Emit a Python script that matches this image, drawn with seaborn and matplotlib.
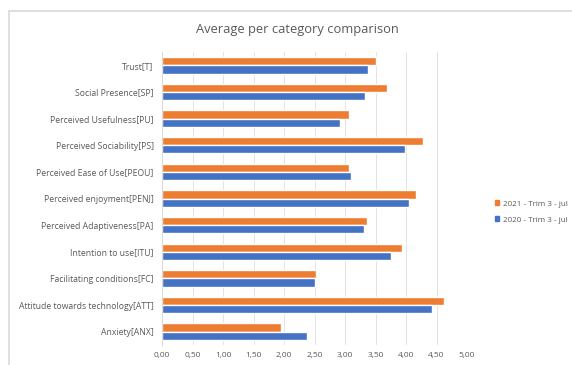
import matplotlib
matplotlib.use("Agg")
import matplotlib.pyplot as plt
import seaborn as sns
import pandas as pd
from matplotlib.lines import Line2D
from matplotlib.patches import Patch

categories = ["Trust[T]", "Social Presence[SP]", "Perceived Usefulness[PU]",
              "Perceived Sociability[PS]", "Perceived Ease of Use[PEOU]",
              "Perceived enjoyment[PENJ]", "Perceived Adaptiveness[PA]",
              "Intention to use[ITU]", "Facilitating conditions[FC]",
              "Attitude towards technology[ATT]", "Anxiety[ANX]"]
values_2021 = [3.50, 3.69, 3.07, 4.28, 3.07, 4.16, 3.36, 3.93, 2.53, 4.62, 1.95]
values_2020 = [3.38, 3.32, 2.92, 3.98, 3.10, 4.05, 3.31, 3.75, 2.50, 4.42, 2.38]
series_names = ["2021 - Trim 3 - jul", "2020 - Trim 3 - jul"]
xticks = [0, 0.5, 1.0, 1.5, 2.0, 2.5, 3.0, 3.5, 4.0, 4.5, 5.0]
xtick_labels = ["0,00", "0,50", "1,00", "1,50", "2,00", "2,50", "3,00", "3,50", "4,00", "4,50", "5,00"]

df = pd.DataFrame({
    "category": categories * 2,
    "value": values_2021 + values_2020,
    "series": [series_names[0]] * len(categories) + [series_names[1]] * len(categories),
})

sns.set_theme(style="white")
plt.rcParams["font.family"] = ["Open Sans", "DejaVu Sans"]
text_color = "#595959"

fig = plt.figure(figsize=(5.72, 3.65), dpi=100)
ax = fig.add_axes([162 / 572, 1 - 345 / 365, (467 - 162) / 572, (345 - 52) / 365])

palette = {series_names[0]: "#ED7D31", series_names[1]: "#4472C4"}
sns.barplot(data=df, y="category", x="value", hue="series", order=categories,
            hue_order=series_names, palette=palette, orient="h", width=0.62,
            ax=ax, saturation=1, legend=False)

ax.set_xlim(0, 5.0)
ax.set_xticks(xticks)
ax.set_xticklabels(xtick_labels, fontsize=6.0, color=text_color)
ax.tick_params(axis="y", labelsize=6.2, colors=text_color, length=0, pad=6)
ax.tick_params(axis="x", length=0, pad=5)
ax.set_xlabel("")
ax.set_ylabel("")
ax.grid(axis="x", color="#E3E3E3", linewidth=0.7)
ax.set_axisbelow(True)
for s in ["top", "right", "bottom"]:
    ax.spines[s].set_visible(False)
ax.spines["left"].set_color("#D9D9D9")
ax.spines["left"].set_linewidth(0.7)

fig.text(297 / 572, 1 - 30 / 365, "Average per category comparison",
         ha="center", va="center", fontsize=9.3, color=text_color)

handles = [Patch(color=palette[n], label=n) for n in series_names]
leg = fig.legend(handles=handles, loc="center left", bbox_to_anchor=(492 / 572, 1 - 212 / 365),
                 frameon=False, fontsize=5.8, handlelength=0.5, handleheight=0.5,
                 handletextpad=0.5, labelspacing=1.1, borderaxespad=0)
for t in leg.get_texts():
    t.set_color(text_color)

top_y = 1 - 10.5 / 365
left_x = 8.5 / 572
fig.add_artist(Line2D([left_x, 1.0], [top_y, top_y], transform=fig.transFigure,
                      color="#D9D9D9", linewidth=1.2))
fig.add_artist(Line2D([left_x, left_x], [0.0, top_y], transform=fig.transFigure,
                      color="#D9D9D9", linewidth=1.2))

fig.savefig("out.png", dpi=100)
